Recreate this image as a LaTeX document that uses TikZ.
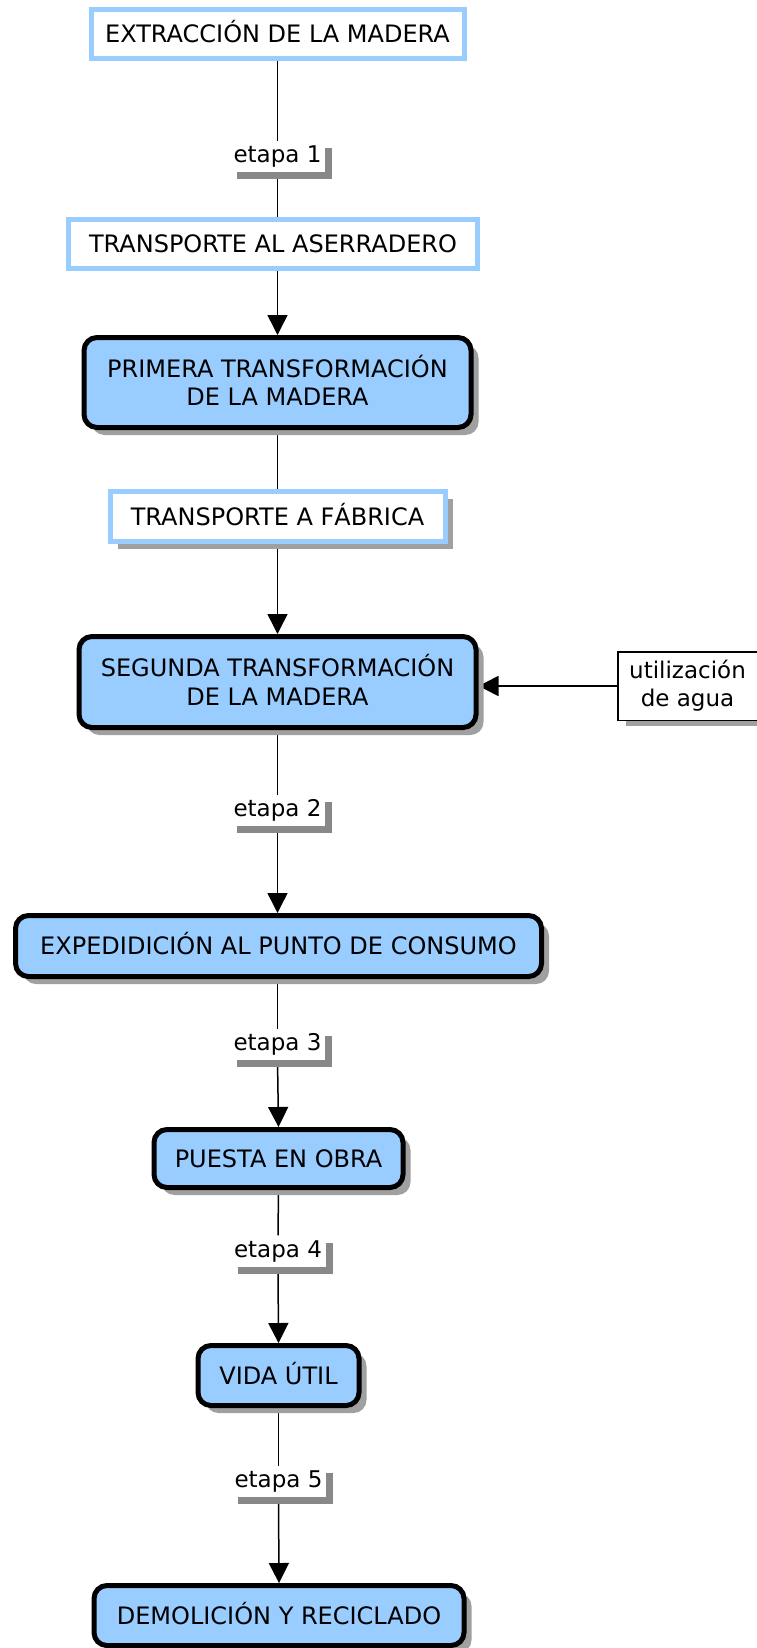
\documentclass[tikz,border=0pt]{standalone}
\usepackage{fontspec}
\setmainfont{DejaVu Sans}
\usetikzlibrary{arrows.meta,shadows}
\pgfdeclarelayer{bg}
\pgfsetlayers{bg,main}
\definecolor{lblue}{HTML}{99CCFF}
\definecolor{shgray}{HTML}{A0A0A0}
\definecolor{labgray}{HTML}{888888}
\tikzset{
  boxfont/.style={font=\fontsize{24}{28.5}\selectfont},
  labfont/.style={font=\fontsize{23}{28}\selectfont},
  wbox/.style={boxfont, draw=lblue, line width=5pt, fill=white, inner sep=0pt, align=center},
  wshadow/.style={drop shadow={shadow xshift=7.5pt, shadow yshift=-7.5pt, fill=shgray, opacity=1}},
  bbox/.style={boxfont, draw=black, line width=5pt, fill=lblue, rounded corners=13pt, inner sep=0pt, align=center,
    drop shadow={shadow xshift=7.5pt, shadow yshift=-7.5pt, fill=shgray, opacity=1}},
  capline/.style={text height=17.5pt, text depth=0pt},
  lab/.style={labfont, fill=white, inner sep=0pt, minimum width=95pt, minimum height=31pt,
    drop shadow={shadow xshift=7pt, shadow yshift=-7pt, fill=labgray, opacity=1}},
  sidebox/.style={labfont, draw=black, line width=1.5pt, fill=white, inner sep=0pt, align=center,
    drop shadow={shadow xshift=8pt, shadow yshift=-6pt, fill=shgray, opacity=1}},
  conn/.style={line width=1.5pt, draw=black},
  arr/.style={conn, -{Triangle[width=20pt,length=20pt]}}
}
\begin{document}
\begin{tikzpicture}[x=1pt,y=-1pt]
\useasboundingbox (0,0) rectangle (757,1648);
% nodes
\node[wbox, capline, minimum width=373pt, minimum height=49pt] (ext) at (277.5,34) {EXTRACCIÓN DE LA MADERA};
\node[lab] (e1) at (277.5,157) {etapa 1};
\node[wbox, capline, minimum width=409pt, minimum height=49pt] (taa) at (273,244) {TRANSPORTE AL ASERRADERO};
\node[bbox, minimum width=387pt, minimum height=90pt] (prim) at (277.5,382.5) {PRIMERA TRANSFORMACI\smash{Ó}N\\DE LA MADERA};
\node[wbox, wshadow, capline, minimum width=335pt, minimum height=50pt] (taf) at (277.5,516.5) {TRANSPORTE A F\smash{Á}BRICA};
\node[bbox, minimum width=397pt, minimum height=91pt] (seg) at (277.5,682) {SEGUNDA TRANSFORMACI\smash{Ó}N\\DE LA MADERA};
\node[sidebox, minimum width=139.5pt, minimum height=68.5pt] (util) at (687.5,686) {utilización\\de agua};
\node[lab] (e2) at (277.5,810.5) {etapa 2};
\node[bbox, capline, minimum width=526pt, minimum height=61pt] (exp) at (278.5,946) {EXPEDIDICIÓN AL PUNTO DE CONSUMO};
\node[lab] (e3) at (277.5,1044.5) {etapa 3};
\node[bbox, capline, minimum width=249pt, minimum height=58pt] (obra) at (278.5,1158.5) {PUESTA EN OBRA};
\node[lab] (e4) at (278,1251) {etapa 4};
\node[bbox, capline, minimum width=161pt, minimum height=60pt] (vida) at (278.5,1375.5) {VIDA ÚTIL};
\node[lab] (e5) at (278.5,1481.5) {etapa 5};
\node[bbox, capline, minimum width=370pt, minimum height=60pt] (demo) at (279,1615.5) {DEMOLICIÓN Y RECICLADO};
% connectors
\begin{pgfonlayer}{bg}
\draw[conn] (ext.south) -- (e1.north);
\draw[conn] (e1.south) -- (e1.south |- taa.north);
\draw[arr] (prim.north |- taa.south) -- (prim.north);
\draw[conn] (prim.south) -- (taf.north);
\draw[arr] (taf.south) -- (seg.north);
\draw[arr] (util.west) -- (util.west -| seg.east);
\draw[conn] (seg.south) -- (e2.north);
\draw[arr] (e2.south) -- (e2.south |- exp.north);
\draw[conn] (exp.south -| e3.south) -- (e3.north);
\draw[arr] (e3.south) -- (obra.north);
\draw[conn] (obra.south) -- (e4.north);
\draw[arr] (e4.south) -- (vida.north);
\draw[conn] (vida.south) -- (e5.north);
\draw[arr] (e5.south) -- (demo.north);
\end{pgfonlayer}
\end{tikzpicture}
\end{document}
